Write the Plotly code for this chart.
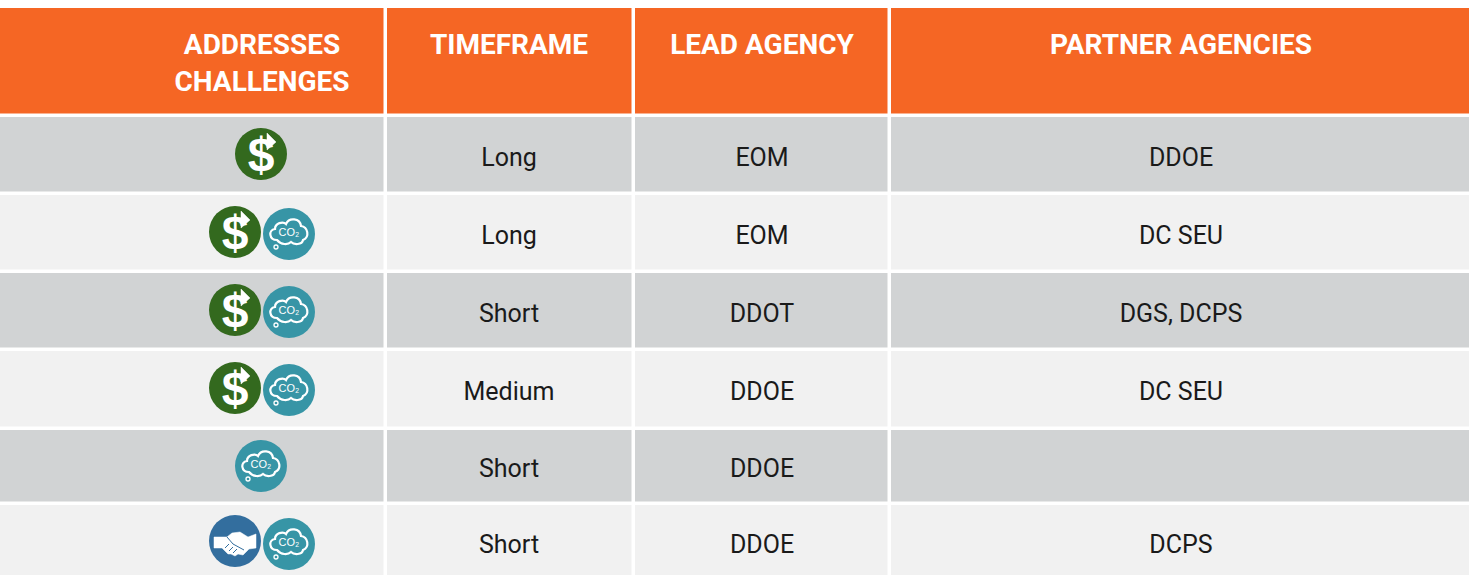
import plotly.graph_objects as go

# ---------- table content ----------
header_lines = ["ADDRESSES", "CHALLENGES", "TIMEFRAME", "LEAD AGENCY", "PARTNER AGENCIES"]
timeframe = ["Long", "Long", "Short", "Medium", "Short", "Short"]
lead_agency = ["EOM", "EOM", "DDOT", "DDOE", "DDOE", "DDOE"]
partner_agencies = ["DDOE", "DC SEU", "DGS, DCPS", "DC SEU", None, "DCPS"]
challenges = [["dollar"], ["dollar", "co2"], ["dollar", "co2"], ["dollar", "co2"], ["co2"], ["hands", "co2"]]

# ---------- layout constants (pixels of the page) ----------
W, H = 1469, 575
X_EDGES = [-10, 385.5, 634, 890, 1480]
Y_EDGES = [7, 116, 194, 272, 350, 428.5, 504, 600]
COL_X = [262, 509, 762, 1181]
ROW_Y = [160, 238, 316, 394, 471, 547]
ICON_Y = [154, 232, 310, 388, 466, 542]
ORANGE, DARK, LIGHT = "#F56624", "#D1D3D4", "#F1F1F1"
GREEN, TEAL, BLUE = "#33691E", "#3795A6", "#336E9E"
NARROW = "Roboto"

fig = go.Figure()

# cell backgrounds
z = [[0, 0, 0, 0]] + [[1 + (i % 2)] * 4 for i in range(6)]
fig.add_trace(go.Heatmap(
    x=X_EDGES, y=Y_EDGES, z=z, xgap=3.5, ygap=3.5, showscale=False, hoverinfo="skip",
    zmin=0, zmax=2,
    colorscale=[[0, ORANGE], [0.5, DARK], [1, LIGHT]],
))

# header text
hx = [COL_X[0], COL_X[0], COL_X[1], COL_X[2], COL_X[3]]
hy = [47, 84, 47, 47, 47]
fig.add_trace(go.Scatter(
    x=hx, y=hy, text=header_lines, mode="text",
    textposition="middle center", hoverinfo="skip",
    textfont=dict(family=NARROW, size=28, color="white", weight="bold"),
))

# body text
for cx, col in zip(COL_X[1:], [timeframe, lead_agency, partner_agencies]):
    pts = [(y, t) for y, t in zip(ROW_Y, col) if t]
    fig.add_trace(go.Scatter(
        x=[cx] * len(pts), y=[p[0] for p in pts], text=[p[1] for p in pts],
        mode="text", textposition="middle center",
        hoverinfo="skip", textfont=dict(family=NARROW, size=25, color="#1a1a1a"),
    ))

# icons
CLOUD = ("M -12 6 C -20 6 -21 -4 -14 -5 C -14 -11 -6 -13 -3 -10 C 0 -17 11 -16 12 -8 "
         "C 19 -7 21 3 14 6 C 13 11 5 11 2 8 C -1 11 -8 11 -12 6 Z")
HAND = ("M -21 -4 L -8 -4 L -3 -8 L 5 -9 L 13 -4 L 21 -7 L 21 7 L 14 8 L 8 14 L 3 13 "
        "L 0 15 L -4 13 L -7 13 L -13 7 L -21 7 Z")


def shifted(path, cx, cy):
    out, is_x = [], True
    for tok in path.split():
        if tok.isalpha():
            out.append(tok)
        else:
            out.append(str(float(tok) + (cx if is_x else cy)))
            is_x = not is_x
    return " ".join(out)


shapes = []
marks = {"dollar": ([], [], GREEN), "co2": ([], [], TEAL), "hands": ([], [], BLUE)}
for row, icons in enumerate(challenges):
    xs = [261] if len(icons) == 1 else [235, 289]
    for name, cx in zip(icons, xs):
        cy = ICON_Y[row]
        if len(icons) == 2:
            cy += {"dollar": 0, "co2": 2, "hands": -1}[name]
        marks[name][0].append(cx)
        marks[name][1].append(cy)
        if name == "co2":
            shapes.append(dict(type="path", path=shifted(CLOUD, cx, cy),
                               line=dict(color="white", width=2.2), layer="above"))
            shapes.append(dict(type="circle", x0=cx - 15, x1=cx - 11, y0=cy + 11, y1=cy + 15,
                               line=dict(color="white", width=1.3), layer="above"))
        elif name == "dollar":
            shapes.append(dict(type="path", path=shifted("M 6 -21 L 15 -12 L 6 -4 Z", cx, cy),
                               fillcolor="white", line=dict(color="white", width=0.5), layer="above"))
        else:
            shapes.append(dict(type="path", path=shifted(HAND, cx, cy),
                               fillcolor="white", line=dict(color="white", width=0.5), layer="above"))
            for a, b, c, d in [(-8, -4, -2, 3), (-2, 3, 9, 9), (-10, 7, -6, 3), (-6, 10, -2, 6), (-2, 12, 2, 8)]:
                shapes.append(dict(type="line", x0=cx + a, y0=cy + b, x1=cx + c, y1=cy + d,
                                   line=dict(color=BLUE, width=1), layer="above"))

for name, (xs, ys, color) in marks.items():
    fig.add_trace(go.Scatter(
        x=xs, y=ys, mode="markers", hoverinfo="skip",
        marker=dict(size=52, color=color, line=dict(width=0)),
    ))
    if name == "dollar":
        fig.add_trace(go.Scatter(
            x=xs, y=[v + 5 for v in ys], mode="text", text=["$"] * len(xs),
            textposition="middle center", hoverinfo="skip",
            textfont=dict(family="Liberation Sans", size=48, color="white", weight="bold"),
        ))
    if name == "co2":
        fig.add_trace(go.Scatter(
            x=xs, y=[v - 1 for v in ys], mode="text", text=["CO₂"] * len(xs),
            textposition="middle center", hoverinfo="skip",
            textfont=dict(family="Liberation Sans", size=11, color="white"),
        ))

fig.update_layout(
    width=W, height=H, margin=dict(l=0, r=0, t=0, b=0), showlegend=False,
    paper_bgcolor="white", plot_bgcolor="white", shapes=shapes,
    xaxis=dict(range=[0, W], visible=False, fixedrange=True),
    yaxis=dict(range=[H, 0], visible=False, fixedrange=True),
)
fig.write_html("out.html", config={"displayModeBar": False},
               post_script="document.body.style.margin='0';document.body.style.overflow='hidden';")
